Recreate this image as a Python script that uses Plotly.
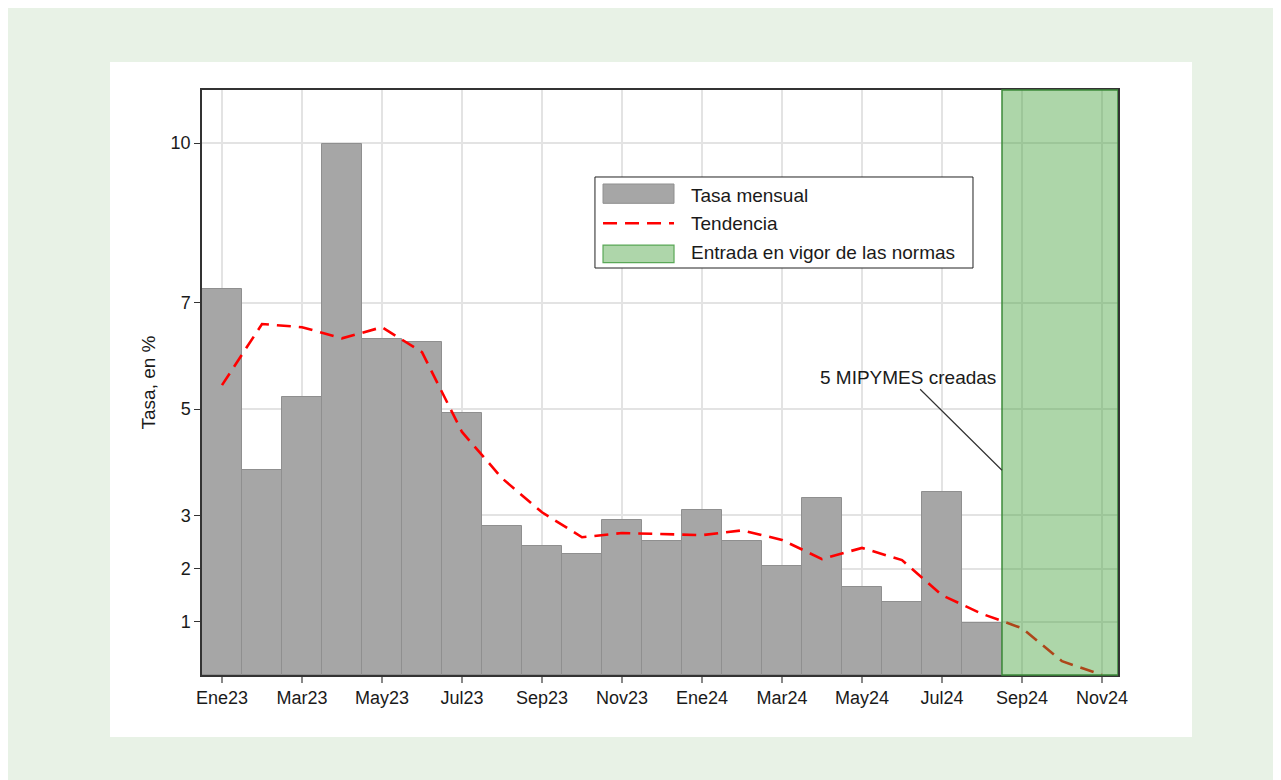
import plotly.graph_objects as go

# ---------------- data ----------------
months = ["Ene23", "Feb23", "Mar23", "Abr23", "May23", "Jun23", "Jul23", "Ago23",
          "Sep23", "Oct23", "Nov23", "Dic23", "Ene24", "Feb24", "Mar24", "Abr24",
          "May24", "Jun24", "Jul24", "Ago24", "Sep24", "Oct24", "Nov24"]
tasa_mensual = [7.26, 3.85, 5.23, 9.98, 6.32, 6.26, 4.92, 2.80, 2.42, 2.27, 2.91, 2.52,
                3.10, 2.52, 2.05, 3.33, 1.65, 1.37, 3.44, 0.98, None, None, None]
tendencia = [5.45, 6.60, 6.54, 6.33, 6.54, 6.07, 4.57, 3.70, 3.06, 2.59, 2.67, 2.65,
             2.63, 2.72, 2.54, 2.18, 2.39, 2.16, 1.50, 1.15, 0.88, 0.26, 0.0]
tick_labels = months[::2]
y_ticks = [1, 2, 3, 5, 7, 10]
band_start = "Sep24"
annot_text = "5 MIPYMES creadas"
legend_labels = ["Tasa mensual", "Tendencia", "Entrada en vigor de las normas"]

x_idx = list(range(len(months)))
band_x0 = months.index(band_start) - 0.5

FONT = "Liberation Sans, Arial, sans-serif"
TXT = "#1a1a1a"
RED = "#ff0000"
GRAY = "#a6a6a6"
GREEN_FILL = "rgba(69,161,60,0.44)"
GREEN_LINE = "#3d8b3a"

fig = go.Figure()
fig.add_trace(go.Bar(
    x=x_idx, y=tasa_mensual, width=1.0,
    marker=dict(color=GRAY, line=dict(color="#8f8f8f", width=1)),
    name=legend_labels[0], showlegend=False, hoverinfo="skip"))
fig.add_trace(go.Scatter(
    x=x_idx, y=tendencia, mode="lines",
    line=dict(color=RED, width=2.6, dash="14px,8px"),
    name=legend_labels[1], showlegend=False, hoverinfo="skip"))

shapes = [
    # white panel
    dict(type="rect", xref="paper", yref="paper", x0=-0.1004, x1=1.0808, y0=-0.106, y1=1.0479,
         fillcolor="white", line=dict(width=0), layer="below"),
    # green band
    dict(type="rect", xref="x", yref="paper", x0=band_x0, x1=22.4, y0=0, y1=1,
         fillcolor=GREEN_FILL, line=dict(color=GREEN_LINE, width=1.5), layer="above"),
    # legend box
    dict(type="rect", xref="paper", yref="paper", x0=0.4290, x1=0.8417, y0=0.6957, y1=0.8513,
         fillcolor="white", line=dict(color="#222222", width=1), layer="above"),
    dict(type="rect", xref="paper", yref="paper", x0=0.4378, x1=0.5153, y0=0.8063, y1=0.8393,
         fillcolor=GRAY, line=dict(color="#8f8f8f", width=1), layer="above"),
    dict(type="line", xref="paper", yref="paper", x0=0.4378, x1=0.5153, y0=0.7721, y1=0.7721,
         line=dict(color=RED, width=2.6, dash="14px,8px"), layer="above"),
    dict(type="rect", xref="paper", yref="paper", x0=0.4378, x1=0.5153, y0=0.7048, y1=0.7350,
         fillcolor="#aed6aa", line=dict(color="#5aa857", width=1.2), layer="above"),
]

annotations = [
    dict(x=band_x0, y=3.85, xref="x", yref="y", text=annot_text, showarrow=True,
         arrowhead=0, arrowwidth=1.2, arrowcolor="#333333", ax=-94, ay=-93,
         font=dict(family=FONT, size=19, color=TXT), standoff=0),
]
for lbl, yy in zip(legend_labels, [0.8205, 0.7726, 0.7214]):
    annotations.append(dict(x=0.5317, y=yy, xref="paper", yref="paper", text=lbl,
                            showarrow=False, xanchor="left", yanchor="middle",
                            font=dict(family=FONT, size=19, color=TXT)))

fig.update_layout(
    width=1273, height=772,
    margin=dict(l=194, r=163, t=82, b=105),
    paper_bgcolor="#e8f2e6", plot_bgcolor="white",
    font=dict(family=FONT, size=18, color=TXT),
    bargap=0, showlegend=False,
    shapes=shapes, annotations=annotations,
    xaxis=dict(range=[-0.5, 22.4], tickmode="array", tickvals=x_idx[::2], ticktext=tick_labels,
               showgrid=True, gridcolor="#e3e3e3", gridwidth=1.5,
               showline=True, mirror=True, linecolor="#333333", linewidth=1.5,
               ticks="outside", ticklen=6, tickcolor="#888888", tickwidth=1.5,
               tickfont=dict(size=18, color=TXT), zeroline=False),
    yaxis=dict(range=[0, 11], tickmode="array", tickvals=y_ticks,
               showgrid=True, gridcolor="#e3e3e3", gridwidth=1.5,
               showline=True, mirror=True, linecolor="#333333", linewidth=1.5,
               ticks="outside", ticklen=6, tickcolor="#333333", tickwidth=1.2,
               tickfont=dict(size=18, color=TXT), zeroline=False,
               title=dict(text="Tasa, en %", font=dict(size=19, color=TXT), standoff=10)),
)

fig.write_html("out.html")
